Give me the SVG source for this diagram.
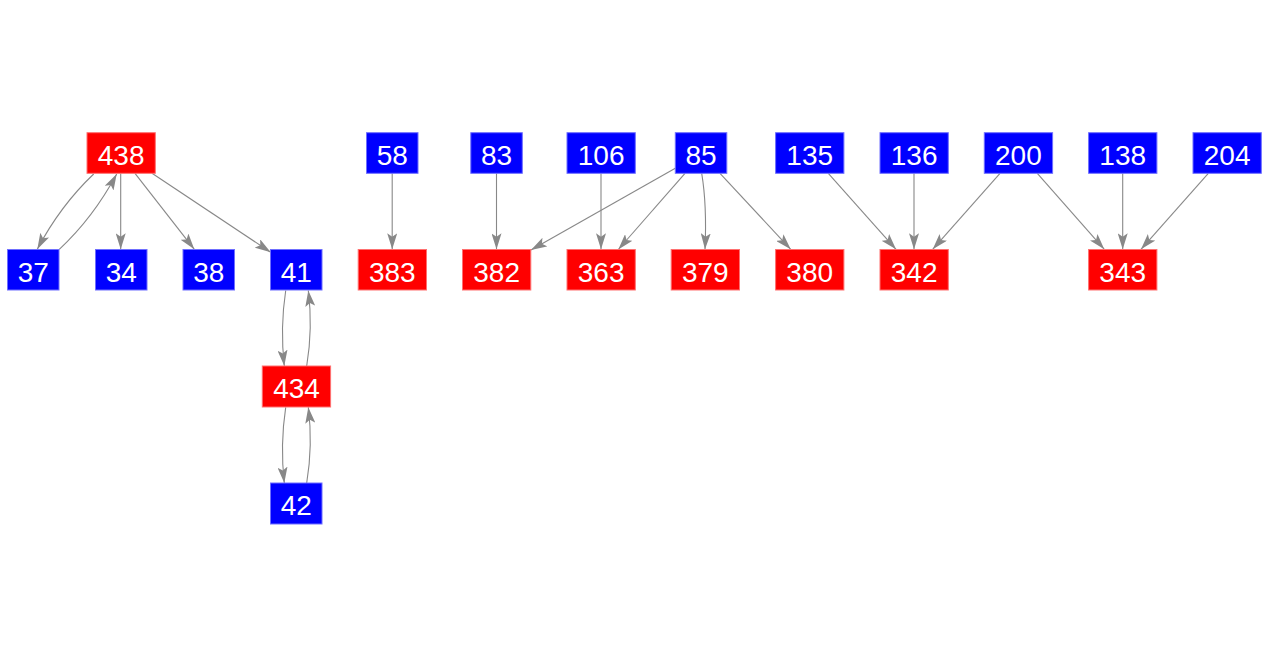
<svg xmlns="http://www.w3.org/2000/svg" width="1267" height="656" viewBox="0 0 1267 656">
<style>
.b{fill:#0000ff;stroke:#6f6fff;stroke-width:1}
.r{fill:#ff0000;stroke:#ff7070;stroke-width:1}
text{font-family:"Liberation Sans",Arial,sans-serif;font-size:28px;fill:#ffffff;text-anchor:middle}
.e{fill:none;stroke:#888888;stroke-width:1.1;marker-end:url(#ah)}
</style>
<defs>
<marker id="ah" viewBox="0 0 16 10" refX="16" refY="5" markerWidth="16" markerHeight="10" markerUnits="userSpaceOnUse" orient="auto">
<path d="M16,5 L0,0 L3.5,5 L0,10 Z" fill="#888888"/>
</marker>
</defs>
<rect width="1267" height="656" fill="#ffffff"/>
<g id="edges">
<path class="e" d="M93.7,174 Q60,206 37.3,249.3"/>
<path class="e" d="M59.3,249.3 Q93,218 116.7,174"/>
<path class="e" d="M120.7,173.3 L120.7,249.3"/>
<path class="e" d="M135,173.3 L194.3,249.3"/>
<path class="e" d="M152,173.3 L270.7,252.3"/>
<path class="e" d="M285.7,290.5 Q280,328 284.3,366"/>
<path class="e" d="M306.7,366 Q313,328 308.3,290.5"/>
<path class="e" d="M285.7,407.3 Q280,445 284.3,483"/>
<path class="e" d="M306.7,483 Q313,445 308.3,407.3"/>
<path class="e" d="M392.2,173.3 L392.2,249.3"/>
<path class="e" d="M496.5,173.3 L496.5,249.3"/>
<path class="e" d="M601,173.3 L601,249.3"/>
<path class="e" d="M675.3,168.3 L531,250"/>
<path class="e" d="M685,173.3 L618.3,249.5"/>
<path class="e" d="M701.7,173.3 Q707,205 705,249.3"/>
<path class="e" d="M720,173.3 L790.7,249.3"/>
<path class="e" d="M828.3,173.3 L896,249.3"/>
<path class="e" d="M914,173.3 L914,249.3"/>
<path class="e" d="M1000,173.3 L932.7,249.3"/>
<path class="e" d="M1037.3,173.3 L1104.3,249.3"/>
<path class="e" d="M1122.7,173.3 L1122.7,249.3"/>
<path class="e" d="M1208.3,173.3 L1141,249.3"/>
</g>
<g id="n438"><rect class="r" x="87" y="132.7" width="68.3" height="40.6"/><text x="121.1" y="165">438</text></g>
<g id="n37"><rect class="b" x="7.5" y="249.5" width="51.5" height="40.5"/><text x="33.3" y="281.5">37</text></g>
<g id="n34"><rect class="b" x="95.5" y="249.5" width="51.5" height="40.5"/><text x="121.3" y="281.5">34</text></g>
<g id="n38"><rect class="b" x="183" y="249.5" width="51.5" height="40.5"/><text x="208.8" y="281.5">38</text></g>
<g id="n41"><rect class="b" x="270.5" y="249.5" width="51.5" height="40.5"/><text x="296.3" y="281.5">41</text></g>
<g id="n434"><rect class="r" x="262.3" y="366" width="68.3" height="41"/><text x="296.5" y="398">434</text></g>
<g id="n42"><rect class="b" x="270.5" y="483" width="51.5" height="41"/><text x="296.3" y="515">42</text></g>
<g id="n58"><rect class="b" x="366.5" y="132.7" width="51.5" height="40.6"/><text x="392.3" y="165">58</text></g>
<g id="n83"><rect class="b" x="470.8" y="132.7" width="51.5" height="40.6"/><text x="496.6" y="165">83</text></g>
<g id="n106"><rect class="b" x="567" y="132.7" width="68.3" height="40.6"/><text x="601.1" y="165">106</text></g>
<g id="n85"><rect class="b" x="675.3" y="132.7" width="51.5" height="40.6"/><text x="701.1" y="165">85</text></g>
<g id="n135"><rect class="b" x="775.6" y="132.7" width="68.3" height="40.6"/><text x="809.7" y="165">135</text></g>
<g id="n136"><rect class="b" x="880" y="132.7" width="68.3" height="40.6"/><text x="914.1" y="165">136</text></g>
<g id="n200"><rect class="b" x="984.3" y="132.7" width="68.3" height="40.6"/><text x="1018.4" y="165">200</text></g>
<g id="n138"><rect class="b" x="1088.6" y="132.7" width="68.3" height="40.6"/><text x="1122.7" y="165">138</text></g>
<g id="n204"><rect class="b" x="1193" y="132.7" width="68.3" height="40.6"/><text x="1227.1" y="165">204</text></g>
<g id="n383"><rect class="r" x="358.2" y="249.5" width="68.3" height="40.5"/><text x="392.3" y="281.5">383</text></g>
<g id="n382"><rect class="r" x="462.5" y="249.5" width="68.3" height="40.5"/><text x="496.6" y="281.5">382</text></g>
<g id="n363"><rect class="r" x="567" y="249.5" width="68.3" height="40.5"/><text x="601.1" y="281.5">363</text></g>
<g id="n379"><rect class="r" x="671.2" y="249.5" width="68.3" height="40.5"/><text x="705.3" y="281.5">379</text></g>
<g id="n380"><rect class="r" x="775.6" y="249.5" width="68.3" height="40.5"/><text x="809.7" y="281.5">380</text></g>
<g id="n342"><rect class="r" x="880" y="249.5" width="68.3" height="40.5"/><text x="914.1" y="281.5">342</text></g>
<g id="n343"><rect class="r" x="1088.6" y="249.5" width="68.3" height="40.5"/><text x="1122.7" y="281.5">343</text></g>
</svg>
